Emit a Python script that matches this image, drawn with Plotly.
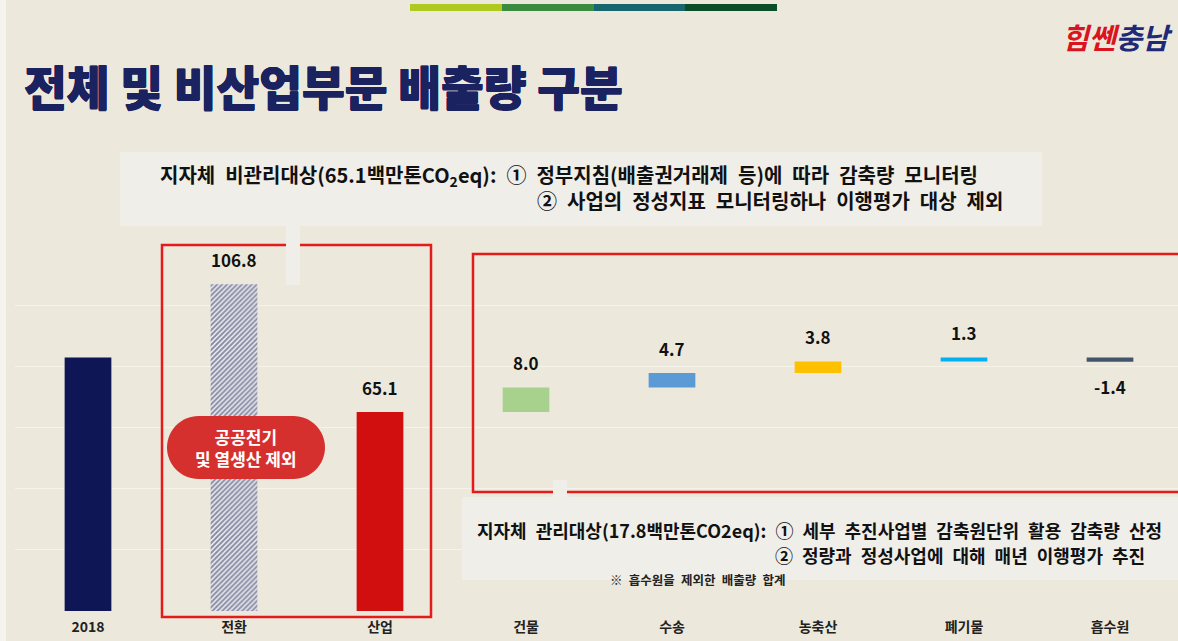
import plotly.graph_objects as go

# ---------------- data ----------------
main_cats = ["2018", "전환", "산업"]
main_vals = [82.9, 106.8, 65.1]
sector_cats = ["건물", "수송", "농축산", "폐기물", "흡수원"]
sector_vals = [8.0, 4.7, 3.8, 1.3, -1.4]
start_value = 65.1  # 산업 (지자체 비관리대상) -> waterfall start
all_cats = main_cats + sector_cats

SP = "\u2002"  # wider word space, as in the reference typeface
title_text = "전체 및 비산업부문 배출량 구분"
top_line1 = SP.join(["지자체", "비관리대상(65.1백만톤CO<sub>2</sub>eq):", "①", "정부지침(배출권거래제",
                     "등)에", "따라", "감축량", "모니터링"])
top_line2 = SP.join(["②", "사업의", "정성지표", "모니터링하나", "이행평가", "대상", "제외"])
bot_line1 = SP.join(["지자체", "관리대상(17.8백만톤CO2eq):", "①", "세부", "추진사업별", "감축원단위",
                     "활용", "감축량", "산정"])
bot_line2 = SP.join(["②", "정량과", "정성사업에", "대해", "매년", "이행평가", "추진"])
footnote = SP.join(["※", "흡수원을", "제외한", "배출량", "합계"])
pill_text = "공공전기<br>및 열생산 제외"

# ---------------- styles ----------------
FONT = "Noto Sans CJK KR"
BG = "#ECE9DC"
BOX = "#F0EEE9"
RED = "#E31B1B"
NAVY_T = "#1B2260"
sector_colors = ["#A9D18E", "#5B9BD5", "#FFC000", "#00B0F0", "#44546A"]

W, H = 1178, 641
ML, MR, MT, MB = 15, 0, 244, 30
PW, PH = W - ML - MR, H - MT - MB


def px(x):
    return (x - ML) / PW


def py(y):
    return (H - MB - y) / PH


# waterfall bases computed from the data
bases = []
run = start_value
for v in sector_vals:
    bases.append(run)
    run += v

fig = go.Figure()

fig.add_trace(go.Bar(
    x=[main_cats[0], main_cats[2]], y=[main_vals[0], main_vals[2]],
    marker=dict(color=["#0E1656", "#D20F0F"], line=dict(width=0)),
    width=0.32, hoverinfo="x+y",
))
fig.add_trace(go.Bar(
    x=[main_cats[1]], y=[main_vals[1]],
    marker=dict(color="#E9E9EE", line=dict(width=0),
                pattern=dict(shape="/", fgcolor="#222A58", bgcolor="#EDEDF1",
                             size=3.5, solidity=0.55, fillmode="overlay")),
    width=0.32, hoverinfo="x+y",
))
fig.add_trace(go.Bar(
    x=sector_cats, y=sector_vals, base=bases,
    marker=dict(color=sector_colors, line=dict(width=0)),
    width=0.32, hoverinfo="x+y",
))

annotations = []
# value labels
for c, v in zip(main_cats, main_vals):
    annotations.append(dict(x=c, y=v, xref="x", yref="y", text=f"{v:.1f}",
                            showarrow=False, yanchor="bottom", yshift=10,
                            font=dict(family=FONT, size=17, color="#111111", weight="bold")))
for c, b, v in zip(sector_cats, bases, sector_vals):
    end = b + v
    annotations.append(dict(x=c, y=end, xref="x", yref="y", text=f"{v:.1f}",
                            showarrow=False,
                            yanchor="bottom" if v >= 0 else "top",
                            yshift=10 if v >= 0 else -10,
                            font=dict(family=FONT, size=17, color="#111111", weight="bold")))

# title, logo
thick = ", ".join(f"{dx}px {dy}px 0 {NAVY_T}" for dx, dy in
                  [(0.5, 0), (-0.5, 0), (0, 0.5), (0, -0.5)])
annotations.append(dict(x=px(22), y=py(85), xref="paper", yref="paper", xanchor="left",
                        yanchor="middle", text=title_text, showarrow=False,
                        font=dict(family=FONT, size=46.5, color=NAVY_T, weight=900, shadow=thick)))
annotations.append(dict(x=px(1117), y=py(36), xref="paper", yref="paper", xanchor="center",
                        yanchor="middle",
                        text="<i><span style='color:#D9141E'>힘쎈</span><span style='color:#1E2A78'>충남</span></i>",
                        showarrow=False,
                        font=dict(family=FONT, size=29, color="#D9141E", weight="bold")))

# text boxes
annotations.append(dict(x=px(158), y=py(176), xref="paper", yref="paper", xanchor="left",
                        yanchor="middle", text=top_line1, showarrow=False,
                        font=dict(family=FONT, size=20, color="#111111", weight="bold")))
annotations.append(dict(x=px(1005), y=py(201), xref="paper", yref="paper", xanchor="right",
                        yanchor="middle", text=top_line2, showarrow=False,
                        font=dict(family=FONT, size=20, color="#111111", weight="bold")))
annotations.append(dict(x=px(475), y=py(530), xref="paper", yref="paper", xanchor="left",
                        yanchor="middle", text=bot_line1, showarrow=False,
                        font=dict(family=FONT, size=18, color="#111111", weight="bold")))
annotations.append(dict(x=px(1147), y=py(555), xref="paper", yref="paper", xanchor="right",
                        yanchor="middle", text=bot_line2, showarrow=False,
                        font=dict(family=FONT, size=18, color="#111111", weight="bold")))
annotations.append(dict(x=px(698), y=py(579), xref="paper", yref="paper", xanchor="center",
                        yanchor="middle", text=footnote, showarrow=False,
                        font=dict(family=FONT, size=12.5, color="#222222", weight="bold")))
annotations.append(dict(x=px(246), y=py(447), xref="paper", yref="paper", xanchor="center",
                        yanchor="middle", text=pill_text, showarrow=False,
                        font=dict(family=FONT, size=17, color="#FFFFFF", weight="bold")))

shapes = []


def rect(x0, y0, x1, y1, fill=None, line=None, lw=0):
    return dict(type="rect", xref="paper", yref="paper",
                x0=px(x0), x1=px(x1), y0=py(y1), y1=py(y0),
                fillcolor=fill if fill else "rgba(0,0,0,0)",
                line=dict(color=line if line else "rgba(0,0,0,0)", width=lw),
                layer="above")


# left light strip of the slide
shapes.append(rect(0, 0, 6, 641, fill="#F4F3EE"))

# top colour strip
for x0, x1, col in [(410, 502, "#AFC91F"), (502, 594, "#3B8B40"),
                    (594, 685, "#17656E"), (685, 777, "#0B4D29")]:
    shapes.append(rect(x0, 4, x1, 11, fill=col))

# note boxes
shapes.append(rect(120, 152, 1042, 226, fill=BOX))
shapes.append(rect(462, 497, 1180, 580, fill=BOX))

# red frames
shapes.append(rect(162, 245, 431, 617, line=RED, lw=2.5))
shapes.append(rect(473, 254, 1182, 492, line=RED, lw=2.5))

# connector tabs
shapes.append(rect(286, 226, 300, 285, fill=BOX))
shapes.append(rect(553, 480, 567, 497, fill=BOX))

# pill
x1p, x2p, top, bot = 198.5, 293.5, 416, 479
r = (bot - top) / 2
cy = (top + bot) / 2
k = 0.5523 * r


def P(x, y):
    return f"{px(x):.5f},{py(y):.5f}"


path = (f"M {P(x1p, top)} L {P(x2p, top)} "
        f"C {P(x2p + k, top)} {P(x2p + r, cy - k)} {P(x2p + r, cy)} "
        f"C {P(x2p + r, cy + k)} {P(x2p + k, bot)} {P(x2p, bot)} "
        f"L {P(x1p, bot)} "
        f"C {P(x1p - k, bot)} {P(x1p - r, cy + k)} {P(x1p - r, cy)} "
        f"C {P(x1p - r, cy - k)} {P(x1p - k, top)} {P(x1p, top)} Z")
shapes.append(dict(type="path", xref="paper", yref="paper", path=path,
                   fillcolor="#D6302E", line=dict(width=0), layer="above"))

fig.update_layout(
    width=W, height=H, autosize=False,
    margin=dict(l=ML, r=MR, t=MT, b=MB, pad=0),
    paper_bgcolor=BG, plot_bgcolor=BG,
    barmode="overlay", showlegend=False,
    font=dict(family=FONT),
    annotations=annotations, shapes=shapes,
    xaxis=dict(type="category", categoryorder="array", categoryarray=all_cats,
               range=[-0.5, -0.5 + PW / 146], showgrid=False, zeroline=False,
               showline=False, ticks="", ticklabelstandoff=6,
               tickfont=dict(family=FONT, size=14, color="#222222", weight="bold")),
    yaxis=dict(range=[0, 120], dtick=20, showticklabels=False, zeroline=False,
               showline=False, gridcolor="#F5F3EA", gridwidth=1),
)

# page without default body margin so the 1178x641 figure fills the window
fig.write_html(
    "out.html",
    config={"displayModeBar": False},
    post_script="document.body.style.margin='0';document.body.style.overflow='hidden';",
)
